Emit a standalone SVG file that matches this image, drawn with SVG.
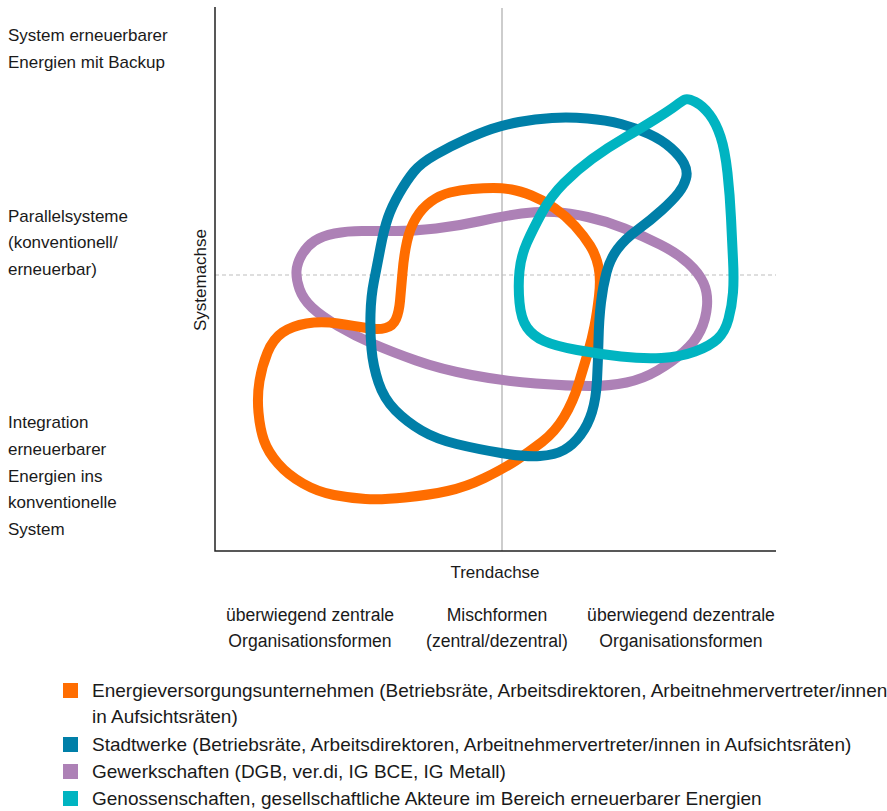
<svg xmlns="http://www.w3.org/2000/svg" width="887" height="811" viewBox="0 0 887 811">
<style>
text{font-family:"Liberation Sans",Arial,sans-serif;font-size:17px;fill:#1a1a1a}
.c{text-anchor:middle}
.xl{font-size:17.6px}
.lg{font-size:19px}
.axis{stroke:#222;stroke-width:1.5;fill:none}
.grid{stroke:#bdbdbd;stroke-width:1.5;fill:none}
.dash{stroke:#bdbdbd;stroke-width:1.2;stroke-dasharray:4 3;fill:none}
.blob{fill:none;stroke-width:10;stroke-linejoin:round}
.evu{stroke:#ff6d00}
.sw{stroke:#007fa8}
.gw{stroke:#ad81b6}
.gen{stroke:#00b4c1}
</style>
<rect width="887" height="811" fill="#fff"/>
<g id="axes">
<line class="grid" x1="502" y1="8" x2="502" y2="551"/>
<line class="dash" x1="215" y1="275" x2="776" y2="275"/>
<polyline class="axis" points="215,7 215,551 776,551"/>
<text transform="translate(206,280) rotate(-90)" class="c">Systemachse</text>
<text x="495" y="578" class="c">Trendachse</text>
</g>
<g id="y-labels">
<text x="8" y="41">System erneuerbarer</text>
<text x="8" y="68">Energien mit Backup</text>
<text x="8" y="222">Parallelsysteme</text>
<text x="8" y="248">(konventionell/</text>
<text x="8" y="275">erneuerbar)</text>
<text x="8" y="428">Integration</text>
<text x="8" y="455">erneuerbarer</text>
<text x="8" y="482">Energien ins</text>
<text x="8" y="508">konventionelle</text>
<text x="8" y="535">System</text>
</g>
<g id="x-labels">
<text x="310" y="621" class="c xl">überwiegend zentrale</text>
<text x="310" y="647" class="c xl">Organisationsformen</text>
<text x="497" y="621" class="c xl">Mischformen</text>
<text x="497" y="647" class="c xl">(zentral/dezentral)</text>
<text x="681" y="621" class="c xl">überwiegend dezentrale</text>
<text x="681" y="647" class="c xl">Organisationsformen</text>
</g>
<g id="gewerkschaften">
<path class="blob gw" d="M362,231 Q347,231 334.5,233.5 Q322,236 314.5,241 Q307,246 302,254.5 Q297,263 296.5,271 Q296,279 299.5,289 Q303,299 312,307.5 Q321,316 338,326 Q355,336 373.5,344 Q392,352 416,360.5 Q440,369 471.5,375 Q503,381 536,383.5 Q569,386 589.5,386 Q610,386 626.5,382.5 Q643,379 657.5,370.5 Q672,362 683.5,352 Q695,342 700.5,330.5 Q706,319 707,306 Q708,293 703.5,283 Q699,273 688,263 Q677,253 660,244.5 Q643,236 624.5,228.5 Q606,221 587.5,217 Q569,213 554.5,212 Q540,211 521.5,213.5 Q503,216 480.5,221 Q458,226 436,228.5 Q414,231 395.5,231 Q377,231 362,231 Z"/>
</g>
<g id="energieversorger">
<path class="blob evu" d="M493.5,188 Q484,188 472,189 Q460,190 450,192.5 Q440,195 431,201.5 Q422,208 416,218 Q410,228 407,241.5 Q404,255 402.5,272.5 Q401,290 400,301 Q399,312 396,319 Q393,326 385.5,328 Q378,330 366.5,328 Q355,326 338,323.5 Q321,321 306.5,323.5 Q292,326 282.5,332.5 Q273,339 267.5,352.5 Q262,366 259.5,381 Q257,396 258.5,412.5 Q260,429 264,440.5 Q268,452 278,463.5 Q288,475 303,483.5 Q318,492 334,495 Q350,498 365.5,499 Q381,500 405,497.5 Q429,495 447.5,491 Q466,487 484.5,478 Q503,469 516,460.5 Q529,452 542,442 Q555,432 564,417 Q573,402 578.5,384 Q584,366 588,352.5 Q592,339 594.5,326 Q597,313 599,296 Q601,279 598.5,267 Q596,255 590,245.5 Q584,236 575,226 Q566,216 554.5,208 Q543,200 531.5,195.5 Q520,191 511.5,189.5 Q503,188 493.5,188 Z"/>
</g>
<g id="stadtwerke">
<path class="blob sw" d="M587.5,118.5 Q569,117 552,118 Q535,119 519,122 Q503,125 491.5,129 Q480,133 465.5,139.5 Q451,146 436,154.5 Q421,163 414,171.5 Q407,180 399.5,193 Q392,206 388,217.5 Q384,229 380.5,247.5 Q377,266 374,281 Q371,296 370.5,314 Q370,332 371.5,349 Q373,366 378.5,382.5 Q384,399 395.5,410.5 Q407,422 421.5,430.5 Q436,439 456.5,444 Q477,449 501,453 Q525,457 540,456 Q555,455 564,450 Q573,445 580.5,435 Q588,425 592,412 Q596,399 597,380.5 Q598,362 598.5,340.5 Q599,319 601,302.5 Q603,286 606.5,272.5 Q610,259 617.5,249 Q625,239 638,229.5 Q651,220 662,210 Q673,200 678.5,193 Q684,186 686,178.5 Q688,171 684,163.5 Q680,156 671,148 Q662,140 649,134 Q636,128 621,124 Q606,120 587.5,118.5 Z"/>
</g>
<g id="genossenschaften">
<path class="blob gen" d="M685,99.5 Q688,98 695.5,102 Q703,106 709.5,114.5 Q716,123 720.5,136.5 Q725,150 727.5,173 Q730,196 731,218 Q732,240 733,259.5 Q734,279 733,292.5 Q732,306 728.5,319 Q725,332 717.5,339 Q710,346 695,351.5 Q680,357 661.5,358 Q643,359 621,356.5 Q599,354 577,350 Q555,346 544,341 Q533,336 527,327.5 Q521,319 519.5,302.5 Q518,286 519.5,271 Q521,256 527,242.5 Q533,229 542,212.5 Q551,196 564,183 Q577,170 592,159 Q607,148 625,137.5 Q643,127 656.5,118.5 Q670,110 676,105.5 Q682,101 685,99.5 Z"/>
</g>
<g id="legend">
<rect x="63" y="683" width="15" height="15" fill="#ff6d00"/>
<text x="92" y="697" class="lg">Energieversorgungsunternehmen (Betriebsräte, Arbeitsdirektoren, Arbeitnehmervertreter/innen</text>
<text x="92" y="723" class="lg">in Aufsichtsräten)</text>
<rect x="63" y="737" width="15" height="15" fill="#007fa8"/>
<text x="92" y="751" class="lg">Stadtwerke (Betriebsräte, Arbeitsdirektoren, Arbeitnehmervertreter/innen in Aufsichtsräten)</text>
<rect x="63" y="764" width="15" height="15" fill="#ad81b6"/>
<text x="92" y="778" class="lg">Gewerkschaften (DGB, ver.di, IG BCE, IG Metall)</text>
<rect x="63" y="791" width="15" height="15" fill="#00b4c1"/>
<text x="92" y="805" class="lg">Genossenschaften, gesellschaftliche Akteure im Bereich erneuerbarer Energien</text>
</g>
</svg>
